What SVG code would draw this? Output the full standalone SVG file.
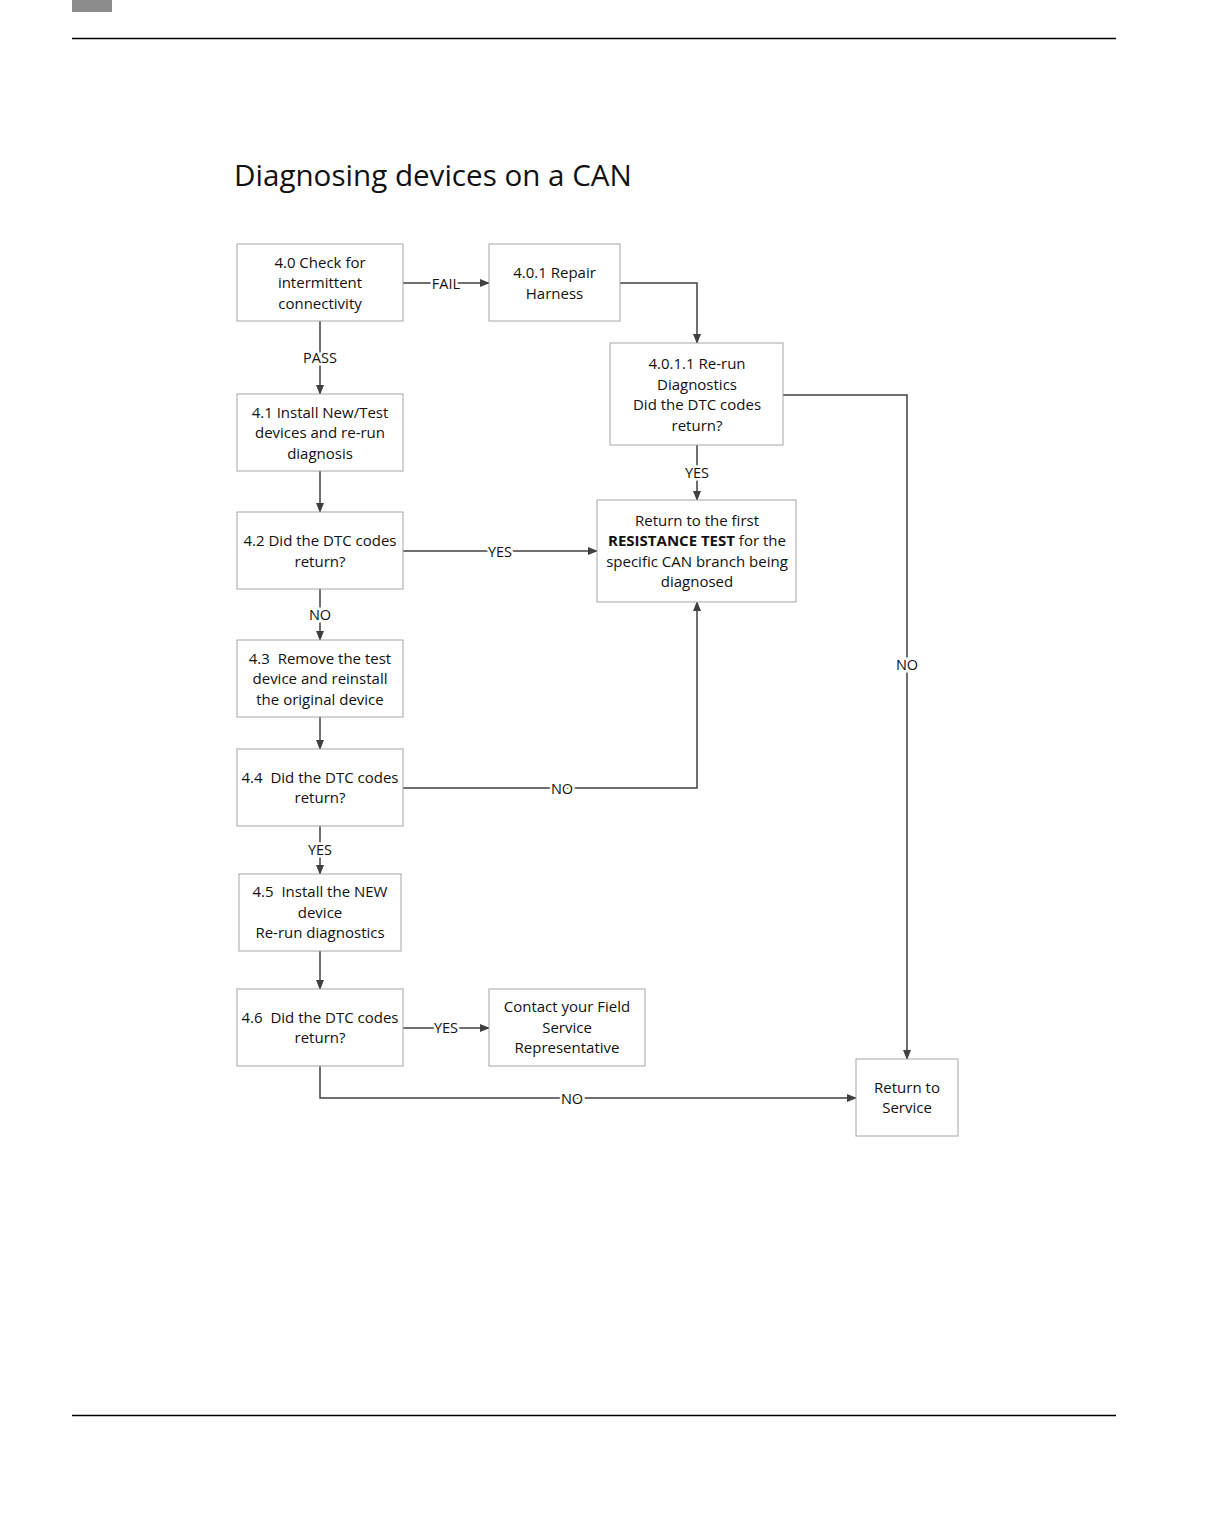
<svg xmlns="http://www.w3.org/2000/svg" width="1225" height="1525" viewBox="0 0 1225 1525">
<defs>
<marker id="ah" markerWidth="10" markerHeight="10" refX="9" refY="5" orient="auto" markerUnits="userSpaceOnUse">
<path d="M0,1 L10,5 L0,9 Z" fill="#404040"/>
</marker>
<style>
.box{fill:#fff;stroke:#a6a6a6;stroke-width:1}
.t{font-family:"Open Sans","Liberation Sans",sans-serif;font-size:15px;fill:#111;text-anchor:middle;dominant-baseline:central}
.c{fill:none;stroke:#404040;stroke-width:1.5;marker-end:url(#ah)}
.l{font-family:"Open Sans","Liberation Sans",sans-serif;font-size:14.5px;fill:#111;text-anchor:middle;dominant-baseline:central;stroke:#fff;stroke-width:5;paint-order:stroke}
</style>
</defs>
<rect width="1225" height="1525" fill="#fff"/>
<rect x="72" y="0" width="40" height="12" fill="#8c8c8c"/>
<line x1="72" y1="38.5" x2="1116" y2="38.5" stroke="#000" stroke-width="1.5"/>
<line x1="72" y1="1415.5" x2="1116" y2="1415.5" stroke="#000" stroke-width="1.5"/>
<text x="234" y="186" font-family="Open Sans, Liberation Sans, sans-serif" font-size="29.6" fill="#111">Diagnosing devices on a CAN</text>

<g id="connectors">
<path class="c" d="M403,283 H489"/>
<path class="c" d="M620,283 H697 V343"/>
<path class="c" d="M320,321 V394"/>
<path class="c" d="M783,395 H907 V1059"/>
<path class="c" d="M697,445 V500"/>
<path class="c" d="M320,471 V512"/>
<path class="c" d="M403,551 H597"/>
<path class="c" d="M320,589 V640"/>
<path class="c" d="M320,717 V749"/>
<path class="c" d="M403,788 H697 V602"/>
<path class="c" d="M320,826 V874"/>
<path class="c" d="M320,951 V989"/>
<path class="c" d="M403,1028 H489"/>
<path class="c" d="M320,1066 V1098 H856"/>
<text class="l" x="446" y="283">FAIL</text>
<text class="l" x="320" y="357">PASS</text>
<text class="l" x="907" y="664">NO</text>
<text class="l" x="697" y="472">YES</text>
<text class="l" x="500" y="551">YES</text>
<text class="l" x="320" y="614">NO</text>
<text class="l" x="562" y="788">NO</text>
<text class="l" x="320" y="849">YES</text>
<text class="l" x="446" y="1027">YES</text>
<text class="l" x="572" y="1098">NO</text>
</g>

<g id="n40"><rect class="box" x="237" y="244" width="166" height="77"/>
<text class="t" x="320" y="262">4.0 Check for</text><text class="t" x="320" y="282">intermittent</text><text class="t" x="320" y="303">connectivity</text></g>
<g id="n401"><rect class="box" x="489" y="244" width="131" height="77"/>
<text class="t" x="554.5" y="272">4.0.1 Repair</text><text class="t" x="554.5" y="293">Harness</text></g>
<g id="n4011"><rect class="box" x="610" y="343" width="173" height="102"/>
<text class="t" x="697" y="363">4.0.1.1 Re-run</text><text class="t" x="697" y="384">Diagnostics</text><text class="t" x="697" y="404">Did the DTC codes</text><text class="t" x="697" y="425">return?</text></g>
<g id="n41"><rect class="box" x="237" y="394" width="166" height="77"/>
<text class="t" x="320" y="412">4.1 Install New/Test</text><text class="t" x="320" y="432">devices and re-run</text><text class="t" x="320" y="453">diagnosis</text></g>
<g id="n42"><rect class="box" x="237" y="512" width="166" height="77"/>
<text class="t" x="320" y="540">4.2 Did the DTC codes</text><text class="t" x="320" y="561">return?</text></g>
<g id="nret"><rect class="box" x="597" y="500" width="199" height="102"/>
<text class="t" x="697" y="520">Return to the first</text>
<text class="t" x="697" y="540"><tspan font-weight="bold">RESISTANCE TEST</tspan> for the</text>
<text class="t" x="697" y="561">specific CAN branch being</text><text class="t" x="697" y="581">diagnosed</text></g>
<g id="n43"><rect class="box" x="237" y="640" width="166" height="77"/>
<text class="t" x="320" y="658" xml:space="preserve">4.3  Remove the test</text><text class="t" x="320" y="678">device and reinstall</text><text class="t" x="320" y="699">the original device</text></g>
<g id="n44"><rect class="box" x="237" y="749" width="166" height="77"/>
<text class="t" x="320" y="777" xml:space="preserve">4.4  Did the DTC codes</text><text class="t" x="320" y="797">return?</text></g>
<g id="n45"><rect class="box" x="239" y="874" width="162" height="77"/>
<text class="t" x="320" y="891" xml:space="preserve">4.5  Install the NEW</text><text class="t" x="320" y="912">device</text><text class="t" x="320" y="932">Re-run diagnostics</text></g>
<g id="n46"><rect class="box" x="237" y="989" width="166" height="77"/>
<text class="t" x="320" y="1017" xml:space="preserve">4.6  Did the DTC codes</text><text class="t" x="320" y="1037">return?</text></g>
<g id="ncontact"><rect class="box" x="489" y="989" width="156" height="77"/>
<text class="t" x="567" y="1006">Contact your Field</text><text class="t" x="567" y="1027">Service</text><text class="t" x="567" y="1047">Representative</text></g>
<g id="nservice"><rect class="box" x="856" y="1059" width="102" height="77"/>
<text class="t" x="907" y="1087">Return to</text><text class="t" x="907" y="1107">Service</text></g>
</svg>
